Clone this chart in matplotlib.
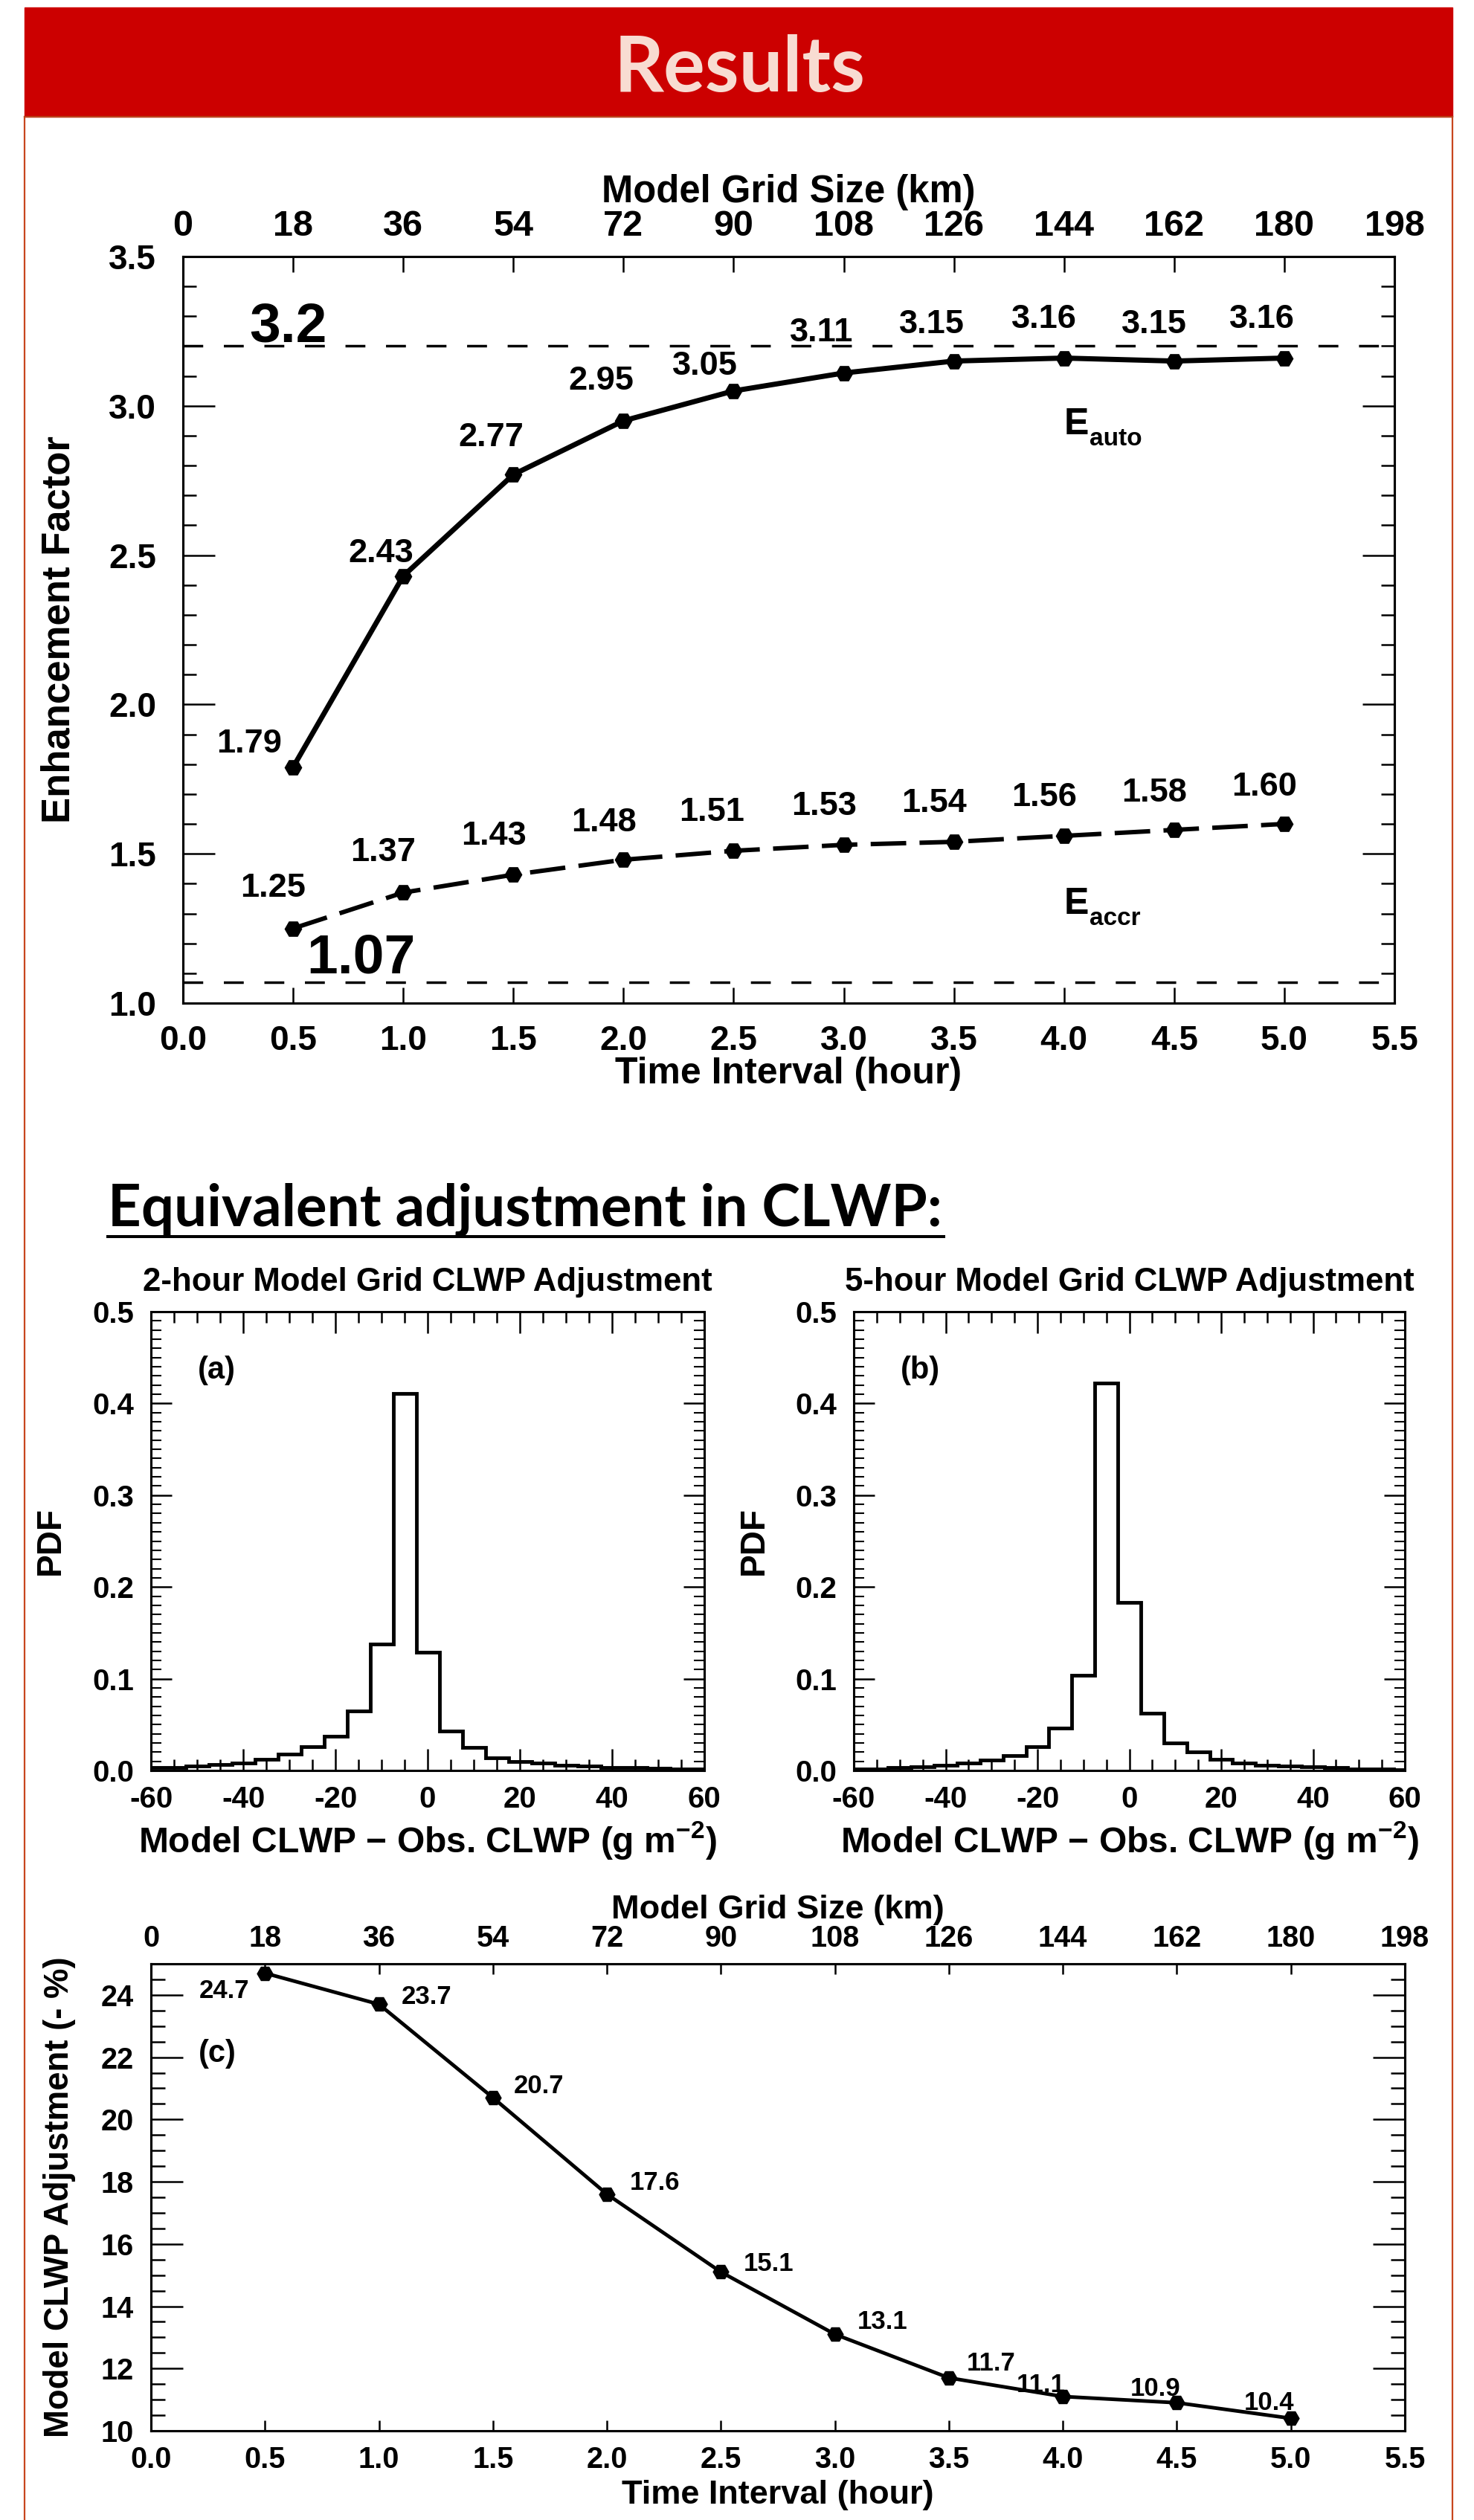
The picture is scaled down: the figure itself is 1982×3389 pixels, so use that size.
import numpy as np
import matplotlib
matplotlib.use('Agg')
import matplotlib.pyplot as plt
from matplotlib.ticker import MultipleLocator, FormatStrFormatter
from matplotlib.lines import Line2D
from matplotlib.patches import Rectangle

W, H = 1982, 3389

plt.rcParams['font.family'] = ['Liberation Sans', 'DejaVu Sans']
plt.rcParams['font.weight'] = 'bold'
plt.rcParams['axes.labelweight'] = 'bold'
plt.rcParams['axes.titleweight'] = 'bold'
plt.rcParams['axes.unicode_minus'] = False
plt.rcParams['mathtext.fontset'] = 'custom'
plt.rcParams['mathtext.rm'] = 'Liberation Sans:bold'
plt.rcParams['mathtext.bf'] = 'Liberation Sans:bold'
plt.rcParams['mathtext.default'] = 'rm'

# ---- data ----
time_hr = [0.5, 1.0, 1.5, 2.0, 2.5, 3.0, 3.5, 4.0, 4.5, 5.0]
time_ticks = [0.0, 0.5, 1.0, 1.5, 2.0, 2.5, 3.0, 3.5, 4.0, 4.5, 5.0, 5.5]
grid_km = [0, 18, 36, 54, 72, 90, 108, 126, 144, 162, 180, 198]

e_auto = [1.79, 2.43, 2.77, 2.95, 3.05, 3.11, 3.15, 3.16, 3.15, 3.16]
e_accr = [1.25, 1.37, 1.43, 1.48, 1.51, 1.53, 1.54, 1.56, 1.58, 1.60]
e_auto_limit = 3.2
e_accr_limit = 1.07

clwp_bins = [-60, -55, -50, -45, -40, -35, -30, -25, -20, -15, -10, -5, 0,
             5, 10, 15, 20, 25, 30, 35, 40, 45, 50, 55, 60]
pdf_2h = [0.003, 0.003, 0.005, 0.0065, 0.008, 0.012, 0.018, 0.026, 0.037, 0.065,
          0.138, 0.411, 0.129, 0.043, 0.025, 0.014, 0.010, 0.0077, 0.0057, 0.0046,
          0.0036, 0.003, 0.0026, 0.002, 0.0015]
pdf_5h = [0.002, 0.002, 0.003, 0.004, 0.006, 0.008, 0.011, 0.016, 0.026, 0.046,
          0.104, 0.422, 0.183, 0.062, 0.030, 0.020, 0.012, 0.008, 0.006, 0.005,
          0.004, 0.003, 0.002, 0.0015, 0.001]

clwp_adjust = [24.7, 23.7, 20.7, 17.6, 15.1, 13.1, 11.7, 11.1, 10.9, 10.4]

# label placement (layout only)
auto_offsets = [(-0.20, 0.05), (-0.10, 0.047), (-0.10, 0.095), (-0.10, 0.104),
                (-0.13, 0.054), (-0.10, 0.106), (-0.10, 0.093), (-0.09, 0.10),
                (-0.09, 0.093), (-0.10, 0.10)]
accr_offsets = [(-0.09, 0.106), (-0.09, 0.106), (-0.09, 0.10), (-0.09, 0.095),
                (-0.10, 0.10), (-0.09, 0.10), (-0.09, 0.10), (-0.09, 0.10),
                (-0.09, 0.095), (-0.09, 0.095)]
adj_offsets = [(-15, -24, 'right'), (21.6, 0, 'left'), (20, 4.3, 'left'),
               (22, 4.3, 'left'), (22, 1.4, 'left'), (22, 5, 'left'),
               (17, 7, 'left'), (-45, 4.3, 'left'), (-45, 6.5, 'left'),
               (-45, 8, 'left')]

fig = plt.figure(figsize=(W / 100, H / 100), dpi=100)


def fx(x):
    return x / W


def fy(y):
    return 1 - y / H


def add_ax(left, top, right, bottom):
    return fig.add_axes([fx(left), fy(bottom), (right - left) / W, (bottom - top) / H])


def spines(ax, lw):
    for sp in ax.spines.values():
        sp.set_linewidth(lw)


# ---- header and frame ----
frame_col = '#C8461E'
fig.add_artist(Rectangle((fx(33), fy(157)), (1953 - 33) / W, (157 - 10) / H,
                         transform=fig.transFigure, color='#CC0000', zorder=0))
for x in (33, 1953):
    fig.add_artist(Line2D([fx(x), fx(x)], [fy(157), 0], transform=fig.transFigure,
                          color=frame_col, lw=1.6))
fig.add_artist(Line2D([fx(33), fx(1953)], [fy(157), fy(157)], transform=fig.transFigure,
                      color='#B8401A', lw=1.6))

renderer = fig.canvas.get_renderer()


def fit_text(x, y, s, target_w, **kw):
    t = fig.text(x, y, s, fontsize=50, **kw)
    w = t.get_window_extent(renderer).width
    t.set_fontsize(50 * target_w / w)
    return t


fit_text(fx(995), fy(123), 'Results', 338, family='Lato', weight='bold',
         color='#F8DCD2', ha='center', va='baseline')

fit_text(fx(145), fy(1649), 'Equivalent adjustment in CLWP:', 1124, family='Lato',
         weight='bold', color='black', ha='left', va='baseline')
fig.add_artist(Line2D([fx(145), fx(1269)], [fy(1663), fy(1663)], transform=fig.transFigure,
                      color='black', lw=2.9))

# ---- top chart: enhancement factor ----
ax = add_ax(246, 345, 1875, 1349)
ax.plot(time_hr, e_auto, color='black', lw=5, marker='H', ms=16, zorder=3)
ax.plot(time_hr, e_accr, color='black', lw=4.3, ls=(0, (8, 3)), marker='H', ms=16, zorder=3)
ax.axhline(e_auto_limit, color='black', lw=2.5, ls=(0, (7.7, 8)))
ax.axhline(e_accr_limit, color='black', lw=2.5, ls=(0, (7.7, 8)))
ax.set_xlim(time_ticks[0], time_ticks[-1])
ax.set_ylim(1.0, 3.5)
ax.set_xticks(time_ticks)
ax.xaxis.set_major_formatter(FormatStrFormatter('%.1f'))
ax.yaxis.set_major_locator(MultipleLocator(0.5))
ax.yaxis.set_minor_locator(MultipleLocator(0.1))
ax.yaxis.set_major_formatter(FormatStrFormatter('%.1f'))
ax.tick_params(axis='x', which='major', direction='in', length=15, width=1.8,
               top=False, labelsize=33, pad=21)
ax.tick_params(axis='y', which='major', direction='in', length=31, width=1.8,
               right=True, labelsize=33, pad=26)
ax.tick_params(axis='y', which='minor', direction='in', length=13, width=1.8, right=True)
spines(ax, 2.2)

for x, v, (dx, dy) in zip(time_hr, e_auto, auto_offsets):
    ax.text(x + dx, v + dy, f'{v:.2f}', ha='center', va='baseline', fontsize=32.5)
for x, v, (dx, dy) in zip(time_hr, e_accr, accr_offsets):
    ax.text(x + dx, v + dy, f'{v:.2f}', ha='center', va='baseline', fontsize=32.5)

ax.text(0.30, e_auto_limit + 0.015, f'{e_auto_limit:.1f}', fontsize=54, ha='left', va='baseline')
ax.text(0.56, e_accr_limit + 0.03, f'{e_accr_limit:.2f}', fontsize=54, ha='left', va='baseline')

for yb, sub in ((2.905, 'auto'), (1.299, 'accr')):
    ax.text(4.0, yb, 'E', fontsize=36, ha='left', va='baseline')
    ax.annotate(sub, xy=(4.0, yb), xytext=(24.5, -10.5), textcoords='offset points',
                fontsize=24, ha='left', va='baseline')

ax.set_xlabel('Time Interval (hour)', fontsize=36, va='baseline')
ax.xaxis.set_label_coords(0.5, -0.1076)
ax.set_ylabel('Enhancement Factor', fontsize=38, va='center', ha='center')
ax.yaxis.set_label_coords(-0.102, 0.5)

tw = ax.twiny()
tw.set_xlim(grid_km[0], grid_km[-1])
tw.set_xticks(grid_km)
tw.tick_params(axis='x', direction='in', length=15, width=1.8, labelsize=35, pad=13)
tw.set_xlabel('Model Grid Size (km)', fontsize=36.5, va='baseline')
tw.xaxis.set_label_coords(0.5, 1.0727)
spines(tw, 2.2)

# ---- histograms ----
centers = np.array(clwp_bins, dtype=float)
half = (centers[1] - centers[0]) / 2
edges = np.clip(np.append(centers - half, centers[-1] + half), centers[0], centers[-1])

hist_panels = [
    ((203, 1764, 947, 2381), pdf_2h, '2-hour Model Grid CLWP Adjustment', '(a)'),
    ((1148, 1764, 1889, 2381), pdf_5h, '5-hour Model Grid CLWP Adjustment', '(b)'),
]
for box, pdf, title, tag in hist_panels:
    hx = add_ax(*box)
    hx.stairs(pdf, edges, color='black', lw=3.5, baseline=None)
    hx.set_xlim(centers[0], centers[-1])
    hx.set_ylim(0, 0.5)
    hx.xaxis.set_major_locator(MultipleLocator(20))
    hx.xaxis.set_minor_locator(MultipleLocator(5))
    hx.yaxis.set_major_locator(MultipleLocator(0.1))
    hx.yaxis.set_minor_locator(MultipleLocator(0.01))
    hx.yaxis.set_major_formatter(FormatStrFormatter('%.1f'))
    hx.xaxis.set_major_formatter(FormatStrFormatter('%d'))
    hx.tick_params(axis='x', which='major', direction='in', length=21, width=1.8,
                   top=True, labelsize=29, pad=14.5)
    hx.tick_params(axis='x', which='minor', direction='in', length=11, width=1.8, top=True)
    hx.tick_params(axis='y', which='major', direction='in', length=20, width=1.8,
                   right=True, labelsize=29, pad=16.5)
    hx.tick_params(axis='y', which='minor', direction='in', length=10, width=1.5, right=True)
    spines(hx, 2.2)
    hx.set_title(title, fontsize=31.5, fontweight='bold', pad=20)
    hx.set_xlabel('Model CLWP \u2212 Obs. CLWP (g m$^{-2}$)', fontsize=34.5, va='baseline')
    hx.xaxis.set_label_coords(0.5, -0.178)
    hx.set_ylabel('PDF', fontsize=33, va='center', ha='center')
    hx.yaxis.set_label_coords(-0.1815, 0.5)
    hx.text(-49.8, 0.427, tag, fontsize=30, ha='left', va='baseline')

# ---- bottom chart: CLWP adjustment ----
cx = add_ax(203, 2641, 1889, 3269)
cx.plot(time_hr, clwp_adjust, color='black', lw=3.5, marker='H', ms=15, zorder=3)
cx.set_xlim(time_ticks[0], time_ticks[-1])
cx.set_ylim(10, 25)
cx.set_xticks(time_ticks)
cx.xaxis.set_major_formatter(FormatStrFormatter('%.1f'))
cx.set_yticks(np.arange(10, 25, 2))
cx.yaxis.set_minor_locator(MultipleLocator(0.5))
cx.tick_params(axis='x', which='major', direction='in', length=10, width=1.8,
               top=False, labelsize=28.5, pad=14.5)
cx.tick_params(axis='y', which='major', direction='in', length=31, width=1.8,
               right=True, labelsize=28.5, pad=17)
cx.tick_params(axis='y', which='minor', direction='in', length=14, width=1.8, right=True)
spines(cx, 2.2)
for x, v, (dx, dy, ha) in zip(time_hr, clwp_adjust, adj_offsets):
    cx.annotate(f'{v:.1f}', xy=(x, v), xytext=(dx, dy), textcoords='offset points',
                fontsize=25, ha=ha, va='baseline')
cx.text(0.21, 21.85, '(c)', fontsize=30, ha='left', va='baseline')
cx.set_xlabel('Time Interval (hour)', fontsize=32.5, va='baseline')
cx.xaxis.set_label_coords(0.5, -0.156)
cx.set_ylabel('Model CLWP Adjustment (- %)', fontsize=32.8, va='center', ha='center')
cx.yaxis.set_label_coords(-0.073, 0.5)

ctw = cx.twiny()
ctw.set_xlim(grid_km[0], grid_km[-1])
ctw.set_xticks(grid_km)
ctw.tick_params(axis='x', direction='in', length=10, width=1.8, labelsize=28.5, pad=11)
ctw.set_xlabel('Model Grid Size (km)', fontsize=32.6, va='baseline')
ctw.xaxis.set_label_coords(0.5, 1.0971)
spines(ctw, 2.2)

fig.savefig('out.png', dpi=100)
